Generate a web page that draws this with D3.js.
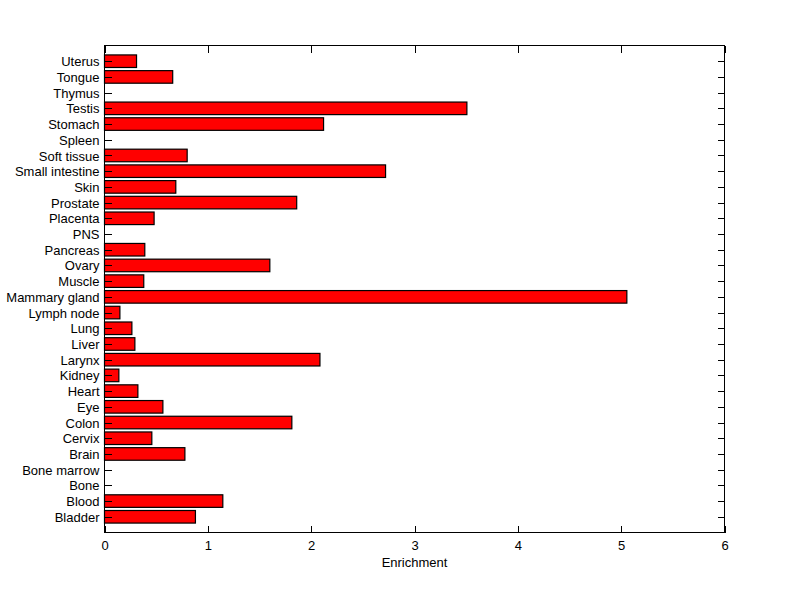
<!DOCTYPE html>
<html>
<head>
<meta charset="utf-8">
<script src="https://cdn.jsdelivr.net/npm/d3@7"></script>
<style>
  html, body { margin: 0; padding: 0; background: #fff; }
  svg { display: block; }
  text { font-family: Arial, "Liberation Sans", Helvetica, sans-serif; font-size: 13px; fill: #000; }
</style>
</head>
<body>
<svg id="chart" width="800" height="599"></svg>
<script>
// Categories listed bottom (1) to top (30)
const categories = ["Bladder","Blood","Bone","Bone marrow","Brain","Cervix","Colon","Eye","Heart","Kidney",
  "Larynx","Liver","Lung","Lymph node","Mammary gland","Muscle","Ovary","Pancreas","PNS","Placenta",
  "Prostate","Skin","Small intestine","Soft tissue","Spleen","Stomach","Testis","Thymus","Tongue","Uterus"];
const enrichment = [0.88, 1.145, 0, 0, 0.778, 0.458, 1.813, 0.565, 0.323, 0.139,
  2.085, 0.294, 0.265, 0.149, 5.055, 0.38, 1.60, 0.39, 0, 0.48,
  1.86, 0.69, 2.72, 0.80, 0, 2.12, 3.507, 0, 0.66, 0.31];
const xTicks = [0, 1, 2, 3, 4, 5, 6];
const xLabel = "Enrichment";

const svg = d3.select("#chart");
const L = 104.5, R = 724.5, T = 45.5, B = 532.5;
const x = d3.scaleLinear().domain([0, 6]).range([L, R]);
const y = d3.scaleLinear().domain([0, categories.length + 1]).range([B, T]);
const barH = Math.abs(y(0.8) - y(0));
const tickLen = 7;

// bars
svg.append("g").selectAll("rect")
  .data(categories.map((c, i) => ({c, v: enrichment[i], pos: i + 1})))
  .join("rect")
  .attr("x", x(0))
  .attr("y", d => y(d.pos) - barH / 2)
  .attr("width", d => x(d.v) - x(0))
  .attr("height", barH)
  .attr("fill", d => d.v > 0 ? "#ff0000" : "none")
  .attr("stroke", d => d.v > 0 ? "#000" : "none")
  .attr("stroke-width", 1.2);

// box
svg.append("rect").attr("x", L).attr("y", T).attr("width", R - L).attr("height", B - T)
  .attr("fill", "none").attr("stroke", "#000").attr("stroke-width", 1).attr("shape-rendering", "crispEdges");

// axes with inward ticks
const yPos = categories.map((c, i) => i + 1);
const axisLeft = d3.axisLeft(y).tickValues(yPos).tickFormat((d) => categories[d - 1]).tickSizeInner(-tickLen).tickSizeOuter(0).tickPadding(5);
const gl = svg.append("g").attr("transform", `translate(${L},0)`).call(axisLeft);
const axisRight = d3.axisRight(y).tickValues(yPos).tickFormat("").tickSizeInner(-tickLen).tickSizeOuter(0);
const gr = svg.append("g").attr("transform", `translate(${R},0)`).call(axisRight);
const axisBottom = d3.axisBottom(x).tickValues(xTicks).tickFormat(d3.format("d")).tickSizeInner(-tickLen).tickSizeOuter(0).tickPadding(8);
const gb = svg.append("g").attr("transform", `translate(0,${B})`).call(axisBottom);
const axisTop = d3.axisTop(x).tickValues(xTicks).tickFormat("").tickSizeInner(-tickLen).tickSizeOuter(0);
const gt = svg.append("g").attr("transform", `translate(0,${T})`).call(axisTop);

[gl, gr, gb, gt].forEach(g => {
  g.select(".domain").remove();
  g.selectAll("line").attr("stroke", "#000").attr("shape-rendering", "crispEdges");
  g.selectAll("text").attr("font-size", 13).attr("font-family", "Arial, 'Liberation Sans', sans-serif").attr("fill", "#000");
});
gl.selectAll("text").attr("dy", "0.35em");

svg.append("text").attr("x", (L + R) / 2).attr("y", 567).attr("text-anchor", "middle").text(xLabel);
</script>
</body>
</html>
